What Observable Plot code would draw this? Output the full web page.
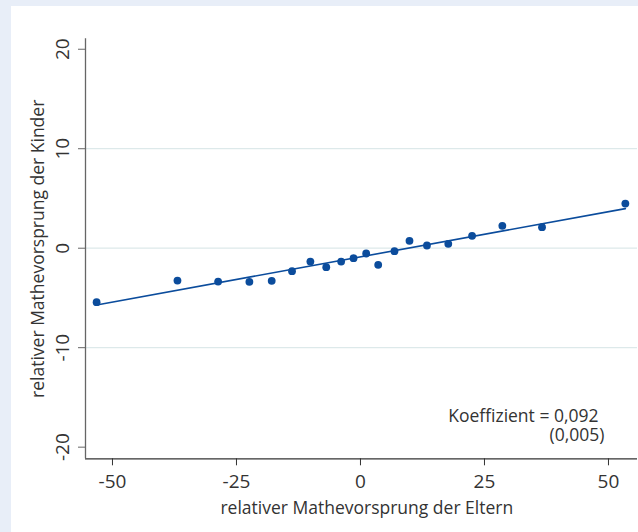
<!DOCTYPE html>
<html>
<head>
<meta charset="utf-8">
<script src="https://cdn.jsdelivr.net/npm/d3@7"></script>
<script src="https://cdn.jsdelivr.net/npm/@observablehq/plot@0.6"></script>
<style>
  html, body { margin: 0; padding: 0; background: #e8eef8; width: 638px; height: 532px; overflow: hidden; }
  #chart { position: absolute; left: 11px; top: 6px; width: 627px; height: 526px; background: #ffffff; }
  #chart svg { display: block; }
</style>
</head>
<body>
<div id="chart"></div>
<script>
// Data (binned scatter)
const parentsLead = [-53.2,-36.9,-28.7,-22.4,-17.9,-13.8,-10.1,-6.9,-3.9,-1.4,1.15,3.57,6.85,9.88,13.4,17.7,22.5,28.6,36.6,53.4];
const childrenLead = [-5.43,-3.25,-3.35,-3.38,-3.28,-2.31,-1.34,-1.91,-1.34,-1.0,-0.53,-1.67,-0.30,0.74,0.27,0.44,1.24,2.25,2.11,4.49];
const xTicks = [-50, -25, 0, 25, 50];
const yTicks = [-20, -10, 0, 10, 20];
const yGrid = [-10, 0, 10];
const xDomain = [-55.44, 55.85];
const yDomain = [-21.17, 21.05];
const xTitle = "relativer Mathevorsprung der Eltern";
const yTitle = "relativer Mathevorsprung der Kinder";
const coefLabel = "Koeffizient = 0,092";
const seLabel = "(0,005)";

const data = parentsLead.map((x, i) => ({x, y: childrenLead[i]}));

const blue = "#0b4c9c";
const font = "'Open Sans', sans-serif";
const textColor = "#333333";

const chart = Plot.plot({
  width: 627,
  height: 526,
  marginLeft: 74,
  marginRight: 1,
  marginTop: 32.3,
  marginBottom: 73.7,
  style: {fontFamily: font, background: "transparent", color: textColor},
  x: {domain: xDomain, axis: null},
  y: {domain: yDomain, axis: null},
  marks: [
    Plot.ruleY(yGrid, {stroke: "#dde9ea", strokeWidth: 1.3}),
    // axis lines
    Plot.ruleY([yDomain[0]], {stroke: "#333", strokeWidth: 1.3}),
    Plot.ruleX([xDomain[0]], {stroke: "#666", strokeWidth: 1.3}),
    // x axis ticks + labels
    Plot.axisX({ticks: xTicks, tickSize: 7, tickPadding: 8.5, tickFormat: d => String(d),
      fontSize: 19, fill: textColor, stroke: "#333", label: null}),
    // y axis ticks (labels drawn rotated below)
    Plot.axisY({ticks: yTicks, tickSize: 7, tickFormat: () => "", stroke: "#666", label: null}),
    Plot.text(yTicks, {y: d => d, text: d => String(d), frameAnchor: "left", dx: -17, rotate: -90,
      textAnchor: "middle", lineAnchor: "bottom", fontSize: 19, fill: textColor}),
    // axis titles
    Plot.text([xTitle], {text: d => d, frameAnchor: "bottom", dy: 55, dx: 5.3, lineAnchor: "bottom",
      textAnchor: "middle", fontSize: 17.5, fill: textColor}),
    Plot.text([yTitle], {text: d => d, frameAnchor: "left", dx: -42, rotate: -90, lineAnchor: "bottom",
      textAnchor: "middle", fontSize: 17.5, fill: textColor}),
    // regression line and points
    Plot.linearRegressionY(data, {x: "x", y: "y", stroke: blue, strokeWidth: 1.6, ci: 0}),
    Plot.dot(data, {x: "x", y: "y", r: 3.9, fill: blue, stroke: "none"}),
    // annotation
    Plot.text([coefLabel], {text: d => d, frameAnchor: "bottom-right", dx: -39, dy: -37,
      textAnchor: "end", lineAnchor: "bottom", fontSize: 17.5, fill: textColor}),
    Plot.text([seLabel], {text: d => d, frameAnchor: "bottom-right", dx: -33, dy: -18.3,
      textAnchor: "end", lineAnchor: "bottom", fontSize: 17.5, fill: textColor})
  ]
});
document.getElementById("chart").appendChild(chart);
</script>
</body>
</html>
